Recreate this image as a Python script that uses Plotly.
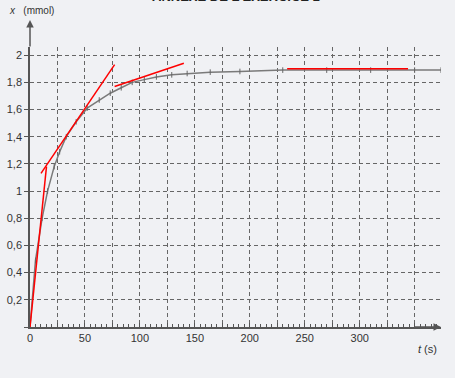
import plotly.graph_objects as go

# Data
t_curve = [0, 5, 11, 16, 22, 27, 33, 42, 52, 63, 73, 83, 93, 104, 115, 129, 143, 164, 191, 230, 270, 310, 350, 374]
x_curve = [0, 0.49, 0.80, 1.00, 1.18, 1.29, 1.40, 1.51, 1.61, 1.67, 1.72, 1.76, 1.80, 1.82, 1.84, 1.855, 1.865, 1.875, 1.88, 1.89, 1.89, 1.89, 1.89, 1.89]

tangent1_t = [0, 15]
tangent1_x = [0, 1.18]
tangent2_t = [10, 77]
tangent2_x = [1.13, 1.93]
tangent3_t = [77, 140]
tangent3_x = [1.77, 1.94]
asymptote_t = [234, 344]
asymptote_x = [1.90, 1.90]

x_grid_vals = list(range(0, 351, 25))
x_tick_text = ["0", "", "50", "", "100", "", "150", "", "200", "", "250", "", "300", "", ""]
y_grid_vals = [0, 0.2, 0.4, 0.6, 0.8, 1.0, 1.2, 1.4, 1.6, 1.8, 2.0]
y_tick_text = ["", "0,2", "0,4", "0,6", "0,8", "1", "1,2", "1,4", "1,6", "1,8", "2"]

BG = "#f0f1f4"
AX = "#555555"
GRID = "#666666"
RED = "#ff0000"
FONT = "Liberation Sans, Arial, sans-serif"

fig = go.Figure()
fig.add_trace(go.Scatter(x=t_curve, y=x_curve, mode="lines+markers",
                         line=dict(color="#7a7a7a", width=1.5),
                         marker=dict(symbol="line-ns-open", size=4, color="#666", line=dict(width=1, color="#666")),
                         showlegend=False, hoverinfo="skip"))
for tt, xx in [(tangent1_t, tangent1_x), (tangent2_t, tangent2_x), (tangent3_t, tangent3_x), (asymptote_t, asymptote_x)]:
    fig.add_trace(go.Scatter(x=tt, y=xx, mode="lines", line=dict(color=RED, width=1.5),
                             showlegend=False, hoverinfo="skip"))

fig.update_layout(
    width=455, height=378,
    margin=dict(l=30, r=14, t=47, b=51),
    paper_bgcolor=BG, plot_bgcolor=BG,
    font=dict(family=FONT, size=11, color="#333333"),
    xaxis=dict(range=[0, 374], tickmode="array", tickvals=x_grid_vals, ticktext=x_tick_text,
               automargin=False,
               showgrid=True, gridcolor=GRID, griddash="4px,3px", gridwidth=1,
               showline=True, linecolor=AX, linewidth=1.5, zeroline=False,
               ticks="inside", ticklen=4, tickcolor=AX,
               minor=dict(dtick=5, tick0=0, ticks="inside", ticklen=3, tickcolor=AX, showgrid=False),
               tickfont=dict(size=11, color="#333")),
    yaxis=dict(range=[0, 2.06], tickmode="array", tickvals=y_grid_vals, ticktext=y_tick_text,
               automargin=False,
               showgrid=True, gridcolor=GRID, griddash="4px,3px", gridwidth=1,
               showline=True, linecolor=AX, linewidth=1.5, zeroline=False,
               ticks="outside", ticklen=4, tickcolor=AX,
               tickfont=dict(size=11, color="#333")),
)

# axis arrows
fig.add_annotation(x=0, y=1.096, xref="x domain", yref="y domain", ax=0, ay=28,
                   showarrow=True, arrowhead=2, arrowsize=1, arrowwidth=1.5, arrowcolor=AX, text="")
fig.add_annotation(x=1.0, y=0, xref="x domain", yref="y domain", ax=-28, ay=0,
                   showarrow=True, arrowhead=2, arrowsize=1, arrowwidth=1.5, arrowcolor=AX, text="")

# axis titles
fig.add_annotation(x=-0.055, y=1.13, xref="x domain", yref="y domain", xanchor="left", yanchor="middle",
                   text="<i>x</i>   (mmol)", showarrow=False, font=dict(size=10, color="#333"))
fig.add_annotation(x=0.968, y=-0.08, xref="x domain", yref="y domain", xanchor="center", yanchor="middle",
                   text="<i>t</i> (s)", showarrow=False, font=dict(size=11, color="#333"))

# heading, cut off at the very top as in the scan
fig.add_annotation(x=0.5, y=1.147, xref="x domain", yref="y domain", xanchor="center", yanchor="bottom",
                   text="<b>ANNEXE DE L'EXERCICE 1</b>", showarrow=False, font=dict(size=13, color="#222"))

fig.write_html("out.html", config={"displayModeBar": False},
               post_script="document.body.style.margin='0px';")
